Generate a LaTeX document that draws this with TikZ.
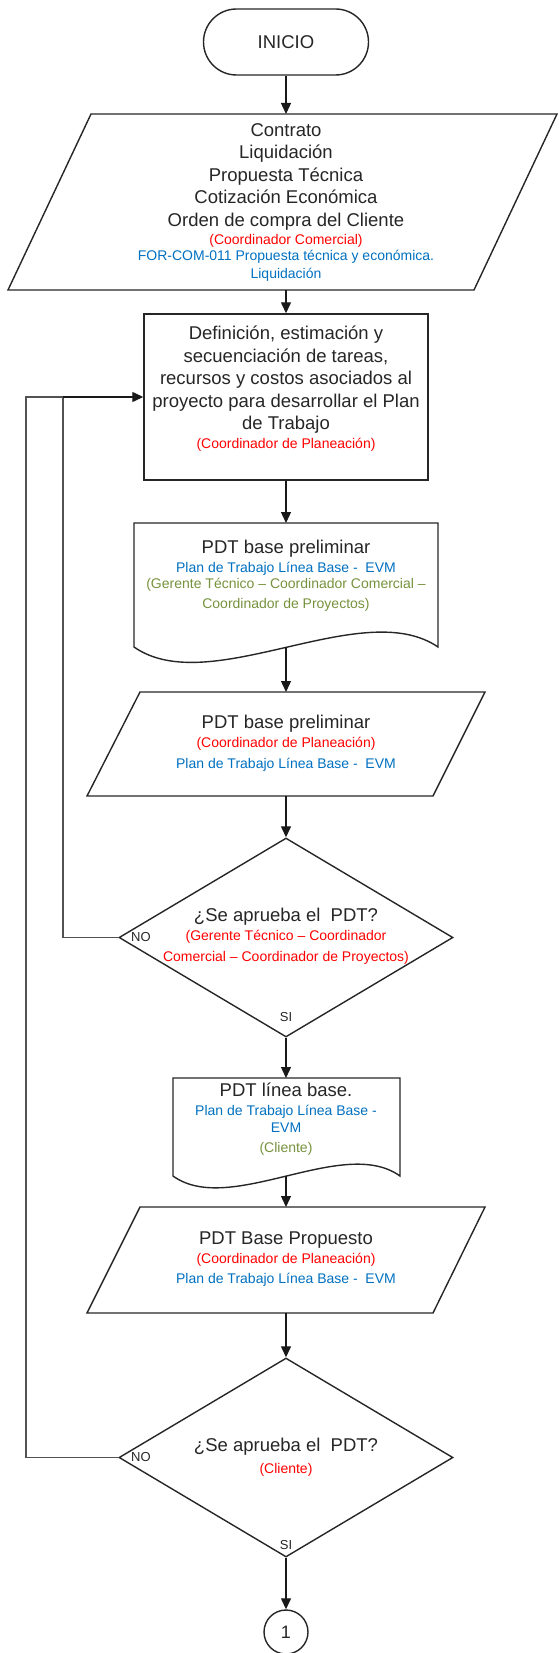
\documentclass[tikz,border=0pt]{standalone}
\usepackage{fontspec}
\setmainfont{Liberation Sans}
\usetikzlibrary{shapes.geometric,shapes.misc,arrows.meta}
\definecolor{txtred}{RGB}{255,0,0}
\definecolor{txtblue}{RGB}{0,112,192}
\definecolor{txtgreen}{RGB}{118,146,60}
\begin{document}
\begin{tikzpicture}[x=1pt,y=-1pt,
  outline/.style={draw=black!85, line width=1.4pt, line join=miter},
  flow/.style={draw=black!90, line width=1.3pt, -{Triangle[length=11pt,width=10pt]}},
  loopline/.style={draw=black!68, line width=1.8pt},
  maintxt/.style={anchor=base, inner sep=0pt, font=\fontsize{18.5}{22}\selectfont, text=black!85},
  redtxt/.style={anchor=base, inner sep=0pt, font=\fontsize{14}{17}\selectfont, text=txtred},
  bluetxt/.style={anchor=base, inner sep=0pt, font=\fontsize{14}{17}\selectfont, text=txtblue},
  greentxt/.style={anchor=base, inner sep=0pt, font=\fontsize{14}{17}\selectfont, text=txtgreen},
  branch/.style={inner sep=0pt, font=\fontsize{13}{15}\selectfont, text=black!85},
  terminal/.style={rounded rectangle, outline, minimum width=165pt, minimum height=66pt, inner sep=0pt,
    font=\fontsize{18.5}{22}\selectfont, text=black!85},
  process/.style={rectangle, outline, minimum width=284pt, minimum height=166pt, inner sep=0pt},
  decision/.style={diamond, outline, minimum width=334pt, minimum height=199pt, inner sep=0pt},
  connector/.style={circle, outline, minimum size=44pt, inner sep=0pt,
    font=\fontsize{18}{20}\selectfont, text=black!85}
]
\useasboundingbox (0,0) rectangle (558,1653);

% ---- start
\node[terminal] (inicio) at (286,42) {INICIO};

% ---- input documents (parallelogram)
\draw[outline] (91,114) -- (557,114) -- (474,290) -- (8,290) -- cycle;
\coordinate (in1top) at (286,114);
\coordinate (in1bot) at (286,290);
\node[maintxt] (in1a) at (286,136.5) {Contrato};
\node[maintxt] (in1b) at (286,159) {Liquidación};
\node[maintxt] (in1c) at (286,181.5) {Propuesta Técnica};
\node[maintxt] (in1d) at (286,204) {Cotización Económica};
\node[maintxt] (in1e) at (286,226.5) {Orden de compra del Cliente};
\node[redtxt]  (in1f) at (286,244) {(Coordinador Comercial)};
\node[bluetxt] (in1g) at (286,261) {FOR-COM-011 Propuesta técnica y económica.};
\node[bluetxt] (in1h) at (286,278) {Liquidación};

% ---- planning process
\node[process] (proc) at (286,397) {};
\node[maintxt] (proca) at (286,339.5) {Definición, estimación y};
\node[maintxt] (procb) at (286,362) {secuenciación de tareas,};
\node[maintxt] (procc) at (286,384.5) {recursos y costos asociados al};
\node[maintxt] (procd) at (286,407) {proyecto para desarrollar el Plan};
\node[maintxt] (proce) at (286,429.5) {de Trabajo};
\node[redtxt]  (procf) at (286,448) {(Coordinador de Planeación)};

% ---- preliminary plan document
\draw[outline] (134,523) -- (438,523) -- (438,647)
  .. controls (362,595) and (210,700) .. (134,647) -- cycle;
\coordinate (doc1top) at (286,523);
\coordinate (doc1bot) at (286,647);
\node[maintxt]  (doc1a) at (286,553.5) {PDT base preliminar};
\node[bluetxt]  (doc1b) at (286,572) {Plan de Trabajo Línea Base -\ \ EVM};
\node[greentxt] (doc1c) at (286,588) {(Gerente Técnico – Coordinador Comercial –};
\node[greentxt] (doc1d) at (286,608) {Coordinador de Proyectos)};

% ---- preliminary plan output
\draw[outline] (140,692) -- (485,692) -- (433,796) -- (87,796) -- cycle;
\coordinate (out1top) at (286,692);
\coordinate (out1bot) at (286,796);
\node[maintxt] (out1a) at (286,728.5) {PDT base preliminar};
\node[redtxt]  (out1b) at (286,747) {(Coordinador de Planeación)};
\node[bluetxt] (out1c) at (286,768) {Plan de Trabajo Línea Base -\ \ EVM};

% ---- first approval
\node[decision] (dec1) at (286,937.5) {};
\node[maintxt] (dec1a) at (286,921.5) {¿Se aprueba el\ \ PDT?};
\node[redtxt]  (dec1b) at (286,940) {(Gerente Técnico – Coordinador};
\node[redtxt]  (dec1c) at (286,961) {Comercial – Coordinador de Proyectos)};
\node[branch, anchor=west] (dec1no) at (131,937.5) {NO};
\node[branch] (dec1si) at (286,1017) {SI};

% ---- baseline plan document
\draw[outline] (173,1078) -- (400,1078) -- (400,1176)
  .. controls (343,1135) and (230,1217) .. (173,1176) -- cycle;
\coordinate (doc2top) at (286,1078);
\coordinate (doc2bot) at (286,1176);
\node[maintxt]  (doc2a) at (286,1096.5) {PDT línea base.};
\node[bluetxt]  (doc2b) at (286,1115) {Plan de Trabajo Línea Base -};
\node[bluetxt]  (doc2c) at (286,1132) {EVM};
\node[greentxt] (doc2d) at (286,1152) {(Cliente)};

% ---- proposed baseline output
\draw[outline] (140,1207) -- (485,1207) -- (433,1313) -- (87,1313) -- cycle;
\coordinate (out2top) at (286,1207);
\coordinate (out2bot) at (286,1313);
\node[maintxt] (out2a) at (286,1244.5) {PDT Base Propuesto};
\node[redtxt]  (out2b) at (286,1263) {(Coordinador de Planeación)};
\node[bluetxt] (out2c) at (286,1283) {Plan de Trabajo Línea Base -\ \ EVM};

% ---- client approval
\node[decision] (dec2) at (286,1457.5) {};
\node[maintxt] (dec2a) at (286,1451.5) {¿Se aprueba el\ \ PDT?};
\node[redtxt]  (dec2b) at (286,1473) {(Cliente)};
\node[branch, anchor=west] (dec2no) at (131,1457.5) {NO};
\node[branch] (dec2si) at (286,1545) {SI};

% ---- off-page connector
\node[connector] (next) at (286,1632) {1};

% ---- main flow
\draw[flow] (inicio.south) -- (in1top);
\draw[flow] (in1bot) -- (proc.north);
\draw[flow] (proc.south) -- (doc1top);
\draw[flow] (doc1bot) -- (out1top);
\draw[flow] (out1bot) -- (dec1.north);
\draw[flow] (dec1.south) -- (doc2top);
\draw[flow] (doc2bot) -- (out2top);
\draw[flow] (out2bot) -- (dec2.north);
\draw[flow] (dec2.south) -- (next.north);

% ---- rejection loops back to planning
\coordinate (loopin) at (63,397);
\coordinate (loopout) at (26,397);
\draw[loopline] (dec2.west) -| (loopout) -- (loopin);
\draw[loopline] (dec1.west) -| (loopin);
\draw[flow] (loopin) -- (proc.west);
\end{tikzpicture}
\end{document}
